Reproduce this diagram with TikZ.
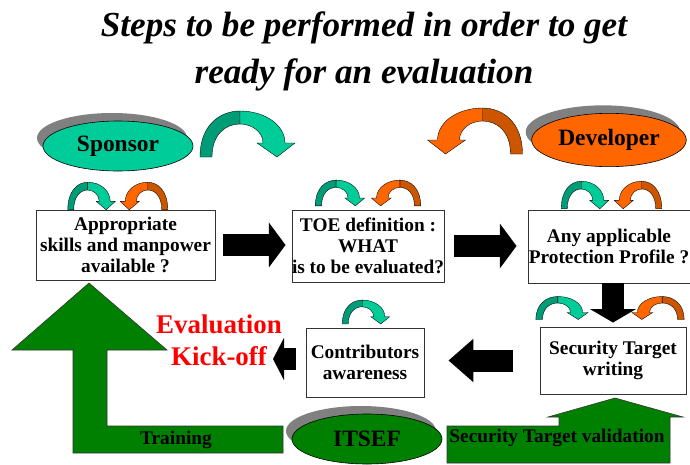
\documentclass[tikz,border=0pt]{standalone}
\usepackage{fontspec}
\setmainfont{Liberation Serif}
\usetikzlibrary{shapes.geometric,arrows.meta,shadows}

\definecolor{teallight}{HTML}{00CC99}
\definecolor{tealdark}{HTML}{009B77}
\definecolor{orangelight}{HTML}{FF6600}
\definecolor{orangedark}{HTML}{CC5500}
\definecolor{itsefgreen}{HTML}{008000}

\tikzset{
	stepbox/.style={draw=black!80, line width=0.8pt, fill=white, align=center, inner sep=0pt,
		font=\fontsize{16.5pt}{17.8pt}\selectfont\bfseries},
	actor/.style={ellipse, draw=black, line width=0.5pt, minimum width=4.5cm, minimum height=1.5cm,
		font=\fontsize{20pt}{24pt}\selectfont\bfseries,
		drop shadow={fill=black!50, opacity=1, shadow xshift=-0.18cm, shadow yshift=0.24cm}},
	blockarrow/.style={draw=black, line width=0.66cm, -{Triangle[length=0.5cm,width=1.32cm]}},
	greenarrow/.style={fill=itsefgreen, draw=black!80, line width=0.5pt},
	greentext/.style={font=\fontsize{16.5pt}{18pt}\selectfont\bfseries},
	pics/turnarrow/.style 2 args={code={
		\filldraw[fill=#1, draw=black, line width=0.3pt] (-47.5,23) .. controls (-47.5,-9) and (-27.5,-23) .. (-7.5,-23)
			-- (-7.5,-10) .. controls (-22.5,-10) and (-35.5,1) .. (-35.5,23) -- cycle;
		\filldraw[fill=#2, draw=black, line width=0.3pt] (-7.5,-23) .. controls (17.5,-23) and (37.5,-9) .. (37.5,9)
			-- (47.5,9) -- (29.5,23) -- (9.5,9) -- (15.5,9) .. controls (15.5,-2) and (4.5,-10) .. (-7.5,-10) -- cycle;
	}}
}

\begin{document}
\begin{tikzpicture}[x=0.03cm, y=-0.03cm]
	\useasboundingbox (0,0) rectangle (690,464);

	% the title
	\node[align=center, font=\fontsize{30pt}{40pt}\selectfont\bfseries\itshape] (title) at (364,51)
		{Steps to be performed in order to get\\ready for an evaluation};

	% the green arrows
	\filldraw[greenarrow] (89,283) -- (167,350) -- (107,350) -- (107,426) -- (283,426) -- (283,453)
		-- (73,453) -- (73,350) -- (12,350) -- cycle;
	\filldraw[greenarrow] (447,426) -- (559,426) -- (559,417) -- (548,417) -- (615,398) -- (683,417)
		-- (670,417) -- (670,463) -- (447,463) -- cycle;
	\node[greentext] (training) at (176,440) {Training};
	\node[greentext] (validation) at (557,438) {Security Target validation};

	% the actors
	\node[actor, fill=teallight] (sponsor) at (118,146) {Sponsor};
	\node[actor, fill=orangelight, minimum height=1.6cm] (developer) at (609,140) {Developer};
	\node[actor, fill=itsefgreen] (itsef) at (367,439) {ITSEF};

	% the steps
	\node[stepbox, minimum width=5.37cm, minimum height=2.1cm] (skills) at (125.5,245)
		{Appropriate\\skills and manpower\\available ?};
	\node[stepbox, minimum width=4.32cm, minimum height=2.16cm] (toe) at (368,246)
		{TOE definition :\\WHAT\\is to be evaluated?};
	\node[stepbox, minimum width=4.86cm, minimum height=2.19cm] (pp) at (609,246.5)
		{Any applicable\\Protection Profile ?};
	\node[stepbox, minimum width=4.38cm, minimum height=2.01cm] (st) at (613,360.5)
		{Security Target\\writing};
	\node[stepbox, minimum width=3.54cm, minimum height=2.07cm] (contrib) at (365,362.5)
		{Contributors\\awareness};

	\node[text=red, align=center, font=\fontsize{23pt}{27pt}\selectfont\bfseries] (kickoff) at (219,340)
		{Evaluation\\Kick-off};
	\coordinate (kicktip) at (273,359);

	% the turning arrows
	\pic at (247.5,134) {turnarrow={tealdark}{teallight}};
	\pic[xscale=-1] at (475,131) {turnarrow={orangedark}{orangelight}};

	\pic[xscale=0.5, yscale=0.6] at (91.5,196) {turnarrow={tealdark}{teallight}};
	\pic[xscale=-0.5, yscale=0.6] at (144,196) {turnarrow={orangedark}{orangelight}};
	\pic[xscale=0.52, yscale=0.56] at (340,193) {turnarrow={tealdark}{teallight}};
	\pic[xscale=-0.52, yscale=0.56] at (396,193) {turnarrow={orangedark}{orangelight}};
	\pic[xscale=0.5, yscale=0.6] at (585,195) {turnarrow={tealdark}{teallight}};
	\pic[xscale=-0.5, yscale=0.6] at (638,195) {turnarrow={orangedark}{orangelight}};
	\pic[xscale=0.55, yscale=0.5] at (562,308) {turnarrow={tealdark}{teallight}};
	\pic[xscale=-0.55, yscale=0.5] at (658,308) {turnarrow={orangedark}{orangelight}};
	\pic[xscale=0.5, yscale=0.52] at (366,312) {turnarrow={tealdark}{teallight}};

	% draw the arrows
	\draw[blockarrow, shorten <=0.24cm, shorten >=0.18cm] (skills.east) -- (skills.east -| toe.west);
	\draw[blockarrow, shorten <=0.3cm, shorten >=0.33cm] (toe.east) -- (toe.east -| pp.west);
	\draw[blockarrow, -{Triangle[length=0.4cm,width=1.35cm]}, shorten >=0.12cm] (st.north |- pp.south) -- (st.north);
	\draw[blockarrow, -{Triangle[length=0.75cm,width=1.26cm]}, shorten <=0.81cm, shorten >=0.72cm] (st.west) -- (st.west -| contrib.east);
	\draw[blockarrow, -{Triangle[length=0.33cm,width=1.26cm]}, shorten <=0.3cm] (kicktip -| contrib.west) -- (kicktip);

\end{tikzpicture}
\end{document}
